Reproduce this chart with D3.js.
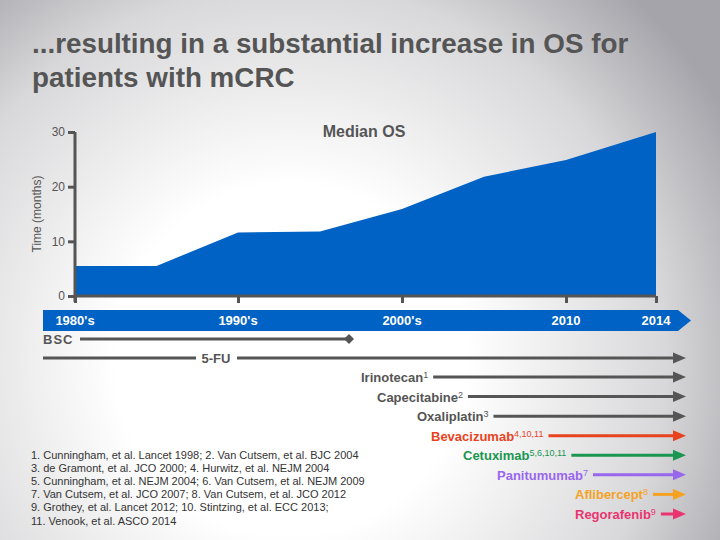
<!DOCTYPE html>
<html><head><meta charset="utf-8">
<script src="https://cdn.jsdelivr.net/npm/d3@7"></script>
<style>body{margin:0;background:#fff;} svg{display:block;font-family:"Liberation Sans",Arial,sans-serif;}</style>
</head><body><svg id="c" width="720" height="540"></svg>
<script>
// ---- data ----
const years = [1980, 1985, 1990, 1995, 2000, 2005, 2010, 2014];
const medianOS = [5.5, 5.5, 11.6, 11.8, 15.9, 21.8, 24.9, 30];
const eraTicks = [1980, 1990, 2000, 2010, 2014];
const eraLabels = ["1980's", "1990's", "2000's", "2010", "2014"];
const osTicks = [0, 10, 20, 30];
const therapies = ["Irinotecan", "Capecitabine", "Oxaliplatin", "Bevacizumab", "Cetuximab", "Panitumumab", "Aflibercept", "Regorafenib"];
const therapyRefs = ["1", "2", "3", "4,10,11", "5,6,10,11", "7", "8", "9"];
const therapyColors = ["#555555", "#555555", "#555555", "#E8431E", "#1A9650", "#9966EE", "#F5A223", "#EA3470"];
const references = [
  "1. Cunningham, et al. Lancet 1998; 2. Van Cutsem, et al. BJC 2004",
  "3. de Gramont, et al. JCO 2000; 4. Hurwitz, et al. NEJM 2004",
  "5. Cunningham, et al. NEJM 2004; 6. Van Cutsem, et al. NEJM 2009",
  "7. Van Cutsem, et al. JCO 2007; 8. Van Cutsem, et al. JCO 2012",
  "9. Grothey, et al. Lancet 2012; 10. Stintzing, et al. ECC 2013;",
  "11. Venook, et al. ASCO 2014"
];
const titleLines = ["...resulting in a substantial increase in OS for", "patients with mCRC"];

// ---- drawing ----
const svg = d3.select("#c");
const grey = "#555555", blue = "#0062C4";
const defs = svg.append("defs");
const rg = defs.append("radialGradient").attr("id", "bg").attr("gradientUnits", "userSpaceOnUse")
  .attr("cx", 290).attr("cy", 360).attr("r", 500);
rg.append("stop").attr("offset", "0.35").attr("stop-color", "#ffffff");
rg.append("stop").attr("offset", "0.75").attr("stop-color", "#d8d8da");
rg.append("stop").attr("offset", "1").attr("stop-color", "#a4a4aa");
svg.append("rect").attr("width", 720).attr("height", 540).attr("fill", "url(#bg)");

// title
svg.append("g").selectAll("text").data(titleLines).join("text")
  .attr("x", 32).attr("y", (d, i) => 53 + i * 34)
  .attr("font-size", 27.8).attr("font-weight", "bold").attr("fill", grey).text(d => d);

const x = d3.scaleLinear().domain(eraTicks).range([75, 238, 402, 566, 656]);
const y = d3.scaleLinear().domain([0, 30]).range([296, 132]);

// area
const area = d3.area().x((d, i) => x(years[i])).y0(y(0)).y1(d => y(d));
svg.append("path").datum(medianOS).attr("d", area).attr("fill", blue);

// y axis
const ya = svg.append("g").attr("transform", `translate(${x(1980)},0)`)
  .call(d3.axisLeft(y).tickValues(osTicks).tickSize(7).tickPadding(3).tickFormat(d3.format("d")));
ya.select(".domain").attr("stroke", grey).attr("stroke-width", 3).attr("d", `M0,${y(30)}V${y(0) + 6}`);
ya.selectAll(".tick line").attr("stroke", grey).attr("stroke-width", 3);
ya.selectAll(".tick text").attr("fill", grey).attr("font-size", 12).attr("font-family", "'Liberation Sans Narrow','Liberation Sans',Arial");

// x axis
const xa = svg.append("g").attr("transform", `translate(0,${y(0)})`)
  .call(d3.axisBottom(x).tickValues(eraTicks).tickSize(7).tickFormat(""));
xa.select(".domain").attr("stroke", grey).attr("stroke-width", 3).attr("d", `M${x(1980)},0H${x(2014)}`);
xa.selectAll(".tick line").attr("stroke", grey).attr("stroke-width", 3);

svg.append("text").attr("transform", "translate(41,214) rotate(-90)").attr("text-anchor", "middle")
  .attr("font-size", 12).attr("fill", grey).text("Time (months)");
svg.append("text").attr("x", 364).attr("y", 137).attr("text-anchor", "middle")
  .attr("font-size", 16).attr("font-weight", "bold").attr("fill", grey).text("Median OS");

// timeline band
svg.append("path").attr("fill", blue)
  .attr("d", `M43,310H678L691,320.5L678,331H43Z`);
svg.append("g").selectAll("text").data(eraTicks).join("text")
  .attr("x", d => x(d)).attr("y", 325).attr("text-anchor", "middle")
  .attr("font-size", 13).attr("font-weight", "bold").attr("fill", "#fff")
  .text((d, i) => eraLabels[i]);

// arrow helper
function arrow(x0, yy, color) {
  svg.append("line").attr("x1", x0).attr("x2", 675).attr("y1", yy).attr("y2", yy)
    .attr("stroke", color).attr("stroke-width", 3);
  svg.append("path").attr("fill", color)
    .attr("d", `M673,${yy - 5.5}L686,${yy}L673,${yy + 5.5}Z`);
}

// BSC
svg.append("text").attr("x", 43).attr("y", 344).attr("font-size", 13).attr("font-weight", "bold")
  .attr("fill", grey).attr("letter-spacing", 1).text("BSC");
svg.append("line").attr("x1", 80).attr("x2", 346).attr("y1", 339).attr("y2", 339).attr("stroke", grey).attr("stroke-width", 3);
svg.append("path").attr("fill", grey).attr("d", "M344,339L349,334L354,339L349,344Z");

// 5-FU
svg.append("line").attr("x1", 43).attr("x2", 196).attr("y1", 358).attr("y2", 358).attr("stroke", grey).attr("stroke-width", 3);
svg.append("text").attr("x", 216).attr("y", 363).attr("text-anchor", "middle").attr("font-size", 13)
  .attr("font-weight", "bold").attr("fill", grey).text("5-FU");
arrow(237, 358, grey);

// therapies
const rowY = d3.scalePoint().domain(therapies).range([377, 514]);
const labelX = [361, 377, 417, 431, 463, 497, 575, 575];
therapies.forEach((t, i) => {
  const yy = rowY(t);
  const tx = svg.append("text").attr("x", labelX[i]).attr("y", yy + 5)
    .attr("font-size", 13).attr("font-weight", "bold").attr("fill", therapyColors[i]);
  tx.append("tspan").text(t);
  tx.append("tspan").attr("dy", -4).attr("font-size", 9).attr("font-weight", "normal").text(therapyRefs[i]);
  const bb = tx.node().getBBox();
  arrow(bb.x + bb.width + 5, yy, therapyColors[i]);
});

// references
svg.append("g").selectAll("text").data(references).join("text")
  .attr("x", 31).attr("y", (d, i) => 459 + i * 13.1)
  .attr("font-size", 11).attr("fill", "#333").text(d => d);
</script></body></html>
